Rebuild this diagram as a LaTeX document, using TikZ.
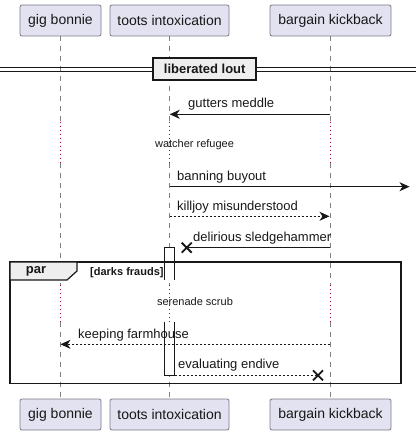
\documentclass[tikz,border=0pt]{standalone}
\usepackage{fontspec}
\setmainfont{Liberation Sans}
\usetikzlibrary{arrows.meta,calc}
\definecolor{partfill}{HTML}{E2E2F0}
\definecolor{partline}{HTML}{7A7A8A}
\definecolor{lifeln}{HTML}{808080}
\definecolor{delayc}{HTML}{A80036}
\definecolor{inkc}{HTML}{181818}
\definecolor{tabfill}{HTML}{EEEEEE}
\tikzset{
  part/.style={draw=partline, fill=partfill, rounded corners=2pt, line width=0.8pt, minimum height=31pt, inner sep=0pt, font=\fontsize{14}{16}\selectfont, text=inkc},
  lifeline/.style={draw=lifeln, line width=0.7pt, dash pattern=on 5pt off 5pt},
  delayline/.style={draw=delayc, line width=0.9pt, dash pattern=on 1pt off 3pt},
  msg/.style={draw=inkc, line width=0.9pt},
  msgd/.style={draw=inkc, line width=0.9pt, dash pattern=on 2pt off 2pt},
  tip/.style={-{Stealth[length=10pt,width=9pt,inset=3pt]}},
  lbl/.style={font=\fontsize{13}{15}\selectfont, text=inkc, inner sep=0pt, anchor=west},
  dlbl/.style={font=\fontsize{11}{13}\selectfont, text=inkc, inner sep=0pt},
  xmark/.style={draw=inkc, line width=1.8pt},
  actbox/.style={draw=inkc, line width=0.9pt}
}
\begin{document}
\begin{tikzpicture}[x=1pt,y=-1pt]
\useasboundingbox (0,0) rectangle (416,435);
% lifelines (dashed parts)
\draw[lifeline] (60.5,36) -- (60.5,121.7);
\draw[lifeline] (60.5,163) -- (60.5,285);
\draw[lifeline] (60.5,321.7) -- (60.5,399);
\draw[lifeline] (169.7,36) -- (169.7,121.7);
\draw[lifeline] (169.7,163) -- (169.7,285);
\draw[lifeline] (169.7,321.7) -- (169.7,399);
\draw[lifeline] (330.3,36) -- (330.3,121.7);
\draw[lifeline] (330.3,163) -- (330.3,285);
\draw[lifeline] (330.3,321.7) -- (330.3,399);
% delays
\draw[delayline] (60.5,121.7) -- (60.5,163);
\draw[delayline] (169.7,121.7) -- (169.7,163);
\draw[delayline] (330.3,121.7) -- (330.3,163);
\draw[delayline] (60.5,285) -- (60.5,321.7);
\draw[delayline] (169.7,285) -- (169.7,321.7);
\draw[delayline] (330.3,285) -- (330.3,321.7);
\node[dlbl] (d1) at (194.5,144.3) {watcher refugee};
\node[dlbl] (d2) at (195,302) {serenade scrub};
% participants
\node[part, minimum width=81pt] (g1) at (60.5,20.5) {gig bonnie};
\node[part, minimum width=119pt] (t1) at (169.5,20.5) {toots intoxication};
\node[part, minimum width=121pt] (b1) at (330.5,20.5) {bargain kickback};
\node[part, minimum width=81pt] (g2) at (60.5,414.5) {gig bonnie};
\node[part, minimum width=119pt] (t2) at (169.5,414.5) {toots intoxication};
\node[part, minimum width=121pt] (b2) at (330.5,414.5) {bargain kickback};
% divider
\draw[inkc, line width=0.9pt] (0,67) -- (416,67);
\draw[inkc, line width=0.9pt] (0,71.3) -- (416,71.3);
\node[draw=inkc, fill=tabfill, line width=1.8pt, minimum width=103pt, minimum height=22pt, inner sep=0pt, font=\bfseries\fontsize{13}{15}\selectfont, text=inkc] (div) at (204.7,68.7) {liberated lout};
% messages
\coordinate (m1s) at (330.3,114.3); \coordinate (m1e) at (169.7,114.3);
\draw[msg, tip] (m1s) -- (m1e);
\node[lbl] (l1) at (188,104.5) {gutters meddle};
\coordinate (m2s) at (169.7,186.7); \coordinate (m2e) at (409.5,186.7);
\draw[msg, tip] (m2s) -- (m2e);
\node[lbl] (l2) at (177,177.5) {banning buyout};
\coordinate (m3s) at (169.7,216.3); \coordinate (m3e) at (329.5,216.3);
\draw[msgd, tip] (m3s) -- (m3e);
\node[lbl] (l3) at (177,207) {killjoy misunderstood};
% activation box
\fill[white] (165,248) rectangle (174,279.5);
\fill[white] (165,322) rectangle (174,374.8);
\draw[actbox] (164.5,280) -- (164.5,247.5) -- (174.5,247.5) -- (174.5,280);
\draw[actbox] (164.5,321.7) -- (164.5,375.3) -- (174.5,375.3) -- (174.5,321.7);
% delirious sledgehammer
\coordinate (m4s) at (330.3,247.7); \coordinate (x1) at (186.7,247.7);
\draw[msg] (m4s) -- (x1);
\draw[xmark] ($(x1)+(-5,-5)$) -- ($(x1)+(5,5)$) ($(x1)+(-5,5)$) -- ($(x1)+(5,-5)$);
\node[lbl] (l4) at (193,238) {delirious sledgehammer};
% par frame
\draw[inkc, line width=1.6pt] (10,262) rectangle (401,383.3);
\draw[inkc, line width=1.2pt, fill=tabfill] (10,262) -- (77,262) -- (77,271) -- (67,280) -- (10,280) -- cycle;
\node[font=\bfseries\fontsize{13}{15}\selectfont, text=inkc, inner sep=0pt] (pl) at (36,271.5) {par};
\node[font=\bfseries\fontsize{11}{13}\selectfont, text=inkc, inner sep=0pt, anchor=west] (pc) at (90,272.5) {[darks frauds]};
% keeping farmhouse
\coordinate (m5s) at (330.3,344.3); \coordinate (m5e) at (60.5,344.3);
\draw[msgd, tip] (m5s) -- (m5e);
\node[lbl] (l5) at (78,335.5) {keeping farmhouse};
% evaluating endive
\coordinate (m6s) at (174.5,375.3); \coordinate (x2) at (318,375.3);
\draw[msgd] (m6s) -- (x2);
\draw[xmark] ($(x2)+(-5,-5)$) -- ($(x2)+(5,5)$) ($(x2)+(-5,5)$) -- ($(x2)+(5,-5)$);
\node[lbl] (l6) at (178,365) {evaluating endive};
\end{tikzpicture}
\end{document}
